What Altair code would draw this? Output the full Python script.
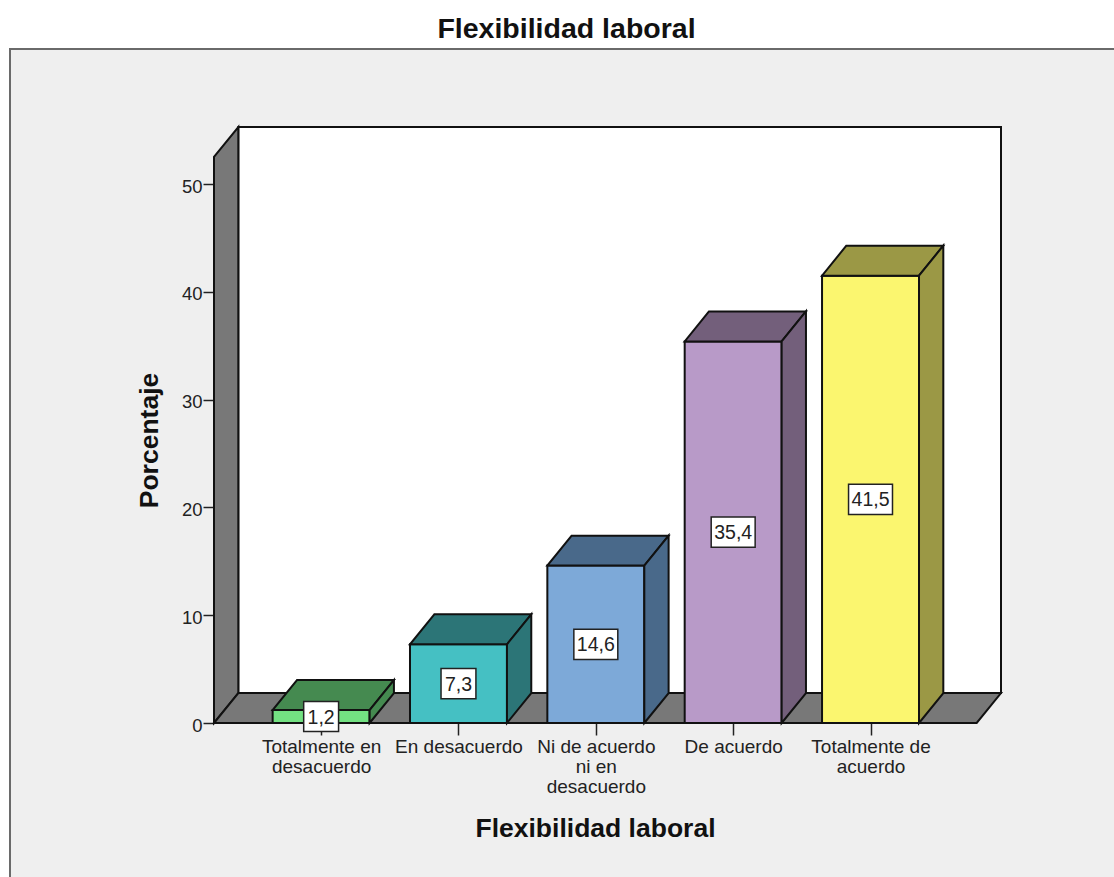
import altair as alt
import pandas as pd

# Survey results
categories = ["Totalmente en|desacuerdo", "En desacuerdo", "Ni de acuerdo|ni en|desacuerdo",
              "De acuerdo", "Totalmente de|acuerdo"]
values = [1.2, 7.3, 14.6, 35.4, 41.5]
front_colors = ["#73E182", "#45C0C3", "#7DA9D8", "#B89AC8", "#FBF66F"]
shade_colors = ["#458A50", "#2C7577", "#49698A", "#735F7B", "#9B9845"]

# Oblique projection, in axis units
HALF = 0.353
DX = 0.177
DY = 2.78
X_MIN, X_MAX = -0.78, 4.95
Y_MAX = 55.29
WALL_TOP = Y_MAX - DY
FLOOR_RIGHT = X_MAX - DX

# Value box half sizes, in axis units
BOX_H = 1.4
BOX_W_SHORT = 0.127
BOX_W_LONG = 0.16

WALL = "#787878"
EDGE = "#111111"
LINE = 2
FONT = "Liberation Sans"

x_scale = alt.Scale(domain=[X_MIN, X_MAX], nice=False, zero=False)
y_scale = alt.Scale(domain=[0, Y_MAX], nice=False, zero=False)

bars = pd.DataFrame({
    "pos": range(len(values)), "value": values, "front": front_colors, "shade": shade_colors,
    "tag": [f"{v:.1f}".replace(".", ",") for v in values],
})
bars["x0"] = bars.pos - HALF
bars["x1"] = bars.pos + HALF
bars["mid"] = bars.value / 2
box_half = [BOX_W_SHORT if len(t) == 3 else BOX_W_LONG for t in bars.tag]
bars["bx0"] = bars.pos - box_half
bars["bx1"] = bars.pos + box_half
bars["by0"] = bars.mid - BOX_H
bars["by1"] = bars.mid + BOX_H

top_rows, side_rows = [], []
for b in bars.itertuples():
    top_rows += [
        dict(pos=b.pos, shade=b.shade, y=b.value, a=b.x0, b=b.x1),
        dict(pos=b.pos, shade=b.shade, y=b.value + DY, a=b.x0 + DX, b=b.x1 + DX),
    ]
    side_rows += [
        dict(pos=b.pos, shade=b.shade, x=b.x1, lo=0, hi=b.value),
        dict(pos=b.pos, shade=b.shade, x=b.x1 + DX, lo=DY, hi=b.value + DY),
    ]
tops = pd.DataFrame(top_rows)
sides = pd.DataFrame(side_rows)

# White page margin above and left of the grey panel, with the panel's border lines
one_row = pd.DataFrame({"k": [0]})
margin_top = alt.Chart(one_row).mark_rect(fill="white", clip=False).encode(
    x=alt.value(-218), x2=alt.value(905), y=alt.value(-131), y2=alt.value(-78))
margin_left = alt.Chart(one_row).mark_rect(fill="white", clip=False).encode(
    x=alt.value(-218), x2=alt.value(-204), y=alt.value(-78), y2=alt.value(755))
border_top = alt.Chart(one_row).mark_rule(color="#6A6A6A", strokeWidth=2, clip=False).encode(
    x=alt.value(-205), x2=alt.value(905), y=alt.value(-78))
border_left = alt.Chart(one_row).mark_rule(color="#6A6A6A", strokeWidth=2, clip=False).encode(
    x=alt.value(-204), y=alt.value(-79), y2=alt.value(755))

# Chart box: back wall, left wall, floor
back_wall = alt.Chart(pd.DataFrame({"a": [X_MIN + DX], "b": [X_MAX], "lo": [DY], "hi": [Y_MAX]})).mark_rect(
    fill="white", stroke=EDGE, strokeWidth=LINE
).encode(x=alt.X("a:Q", scale=x_scale), x2="b:Q", y=alt.Y("lo:Q", scale=y_scale), y2="hi:Q")

left_wall = alt.Chart(pd.DataFrame({"x": [X_MIN, X_MIN + DX], "lo": [0, DY], "hi": [WALL_TOP, Y_MAX]})).mark_area(
    fill=WALL, stroke=EDGE, strokeWidth=LINE, opacity=1
).encode(x=alt.X("x:Q", scale=x_scale), y=alt.Y("lo:Q", scale=y_scale), y2="hi:Q")

floor = alt.Chart(pd.DataFrame({"y": [0, DY], "a": [X_MIN, X_MIN + DX], "b": [FLOOR_RIGHT, X_MAX]})).mark_area(
    fill=WALL, stroke=EDGE, strokeWidth=LINE, orient="horizontal", opacity=1
).encode(y=alt.Y("y:Q", scale=y_scale), x=alt.X("a:Q", scale=x_scale), x2="b:Q")

# Bars: front face, top face, side face
front = alt.Chart(bars).mark_rect(stroke=EDGE, strokeWidth=LINE).encode(
    x=alt.X("x0:Q", scale=x_scale), x2="x1:Q",
    y=alt.Y("value:Q", scale=y_scale), y2=alt.datum(0),
    fill=alt.Fill("front:N", scale=None),
)
top = alt.Chart(tops).mark_area(stroke=EDGE, strokeWidth=LINE, orient="horizontal", opacity=1).encode(
    y=alt.Y("y:Q", scale=y_scale), x=alt.X("a:Q", scale=x_scale), x2="b:Q",
    fill=alt.Fill("shade:N", scale=None), detail="pos:N",
)
side = alt.Chart(sides).mark_area(stroke=EDGE, strokeWidth=LINE, opacity=1).encode(
    x=alt.X("x:Q", scale=x_scale), y=alt.Y("lo:Q", scale=y_scale), y2="hi:Q",
    fill=alt.Fill("shade:N", scale=None), detail="pos:N",
)

# Value labels in white boxes
tag_box = alt.Chart(bars).mark_rect(fill="white", stroke="#222222", strokeWidth=1.5).encode(
    x=alt.X("bx0:Q", scale=x_scale), x2="bx1:Q",
    y=alt.Y("by0:Q", scale=y_scale), y2="by1:Q",
)
tag_text = alt.Chart(bars).mark_text(font=FONT, fontSize=19.5, color="#222222", baseline="middle", dy=1).encode(
    x=alt.X("pos:Q", scale=x_scale), y=alt.Y("mid:Q", scale=y_scale), text="tag:N",
)

# Invisible layer that carries the two axes
label_list = "[" + ",".join(f"'{c}'" for c in categories) + "]"
axes = alt.Chart(bars).mark_point(opacity=0).encode(
    x=alt.X("pos:Q", scale=x_scale, axis=alt.Axis(
        values=list(range(len(values))), title="Flexibilidad laboral", domain=False, grid=False,
        tickSize=12, tickColor="#222222", tickWidth=1.5, labelExpr=f"split({label_list}[datum.value], '|')",
        labelFont=FONT, labelFontSize=19, labelColor="#222222", labelLineHeight=20, labelPadding=2,
        labelOverlap=False, labelFlush=False, labelBound=False, labelBaseline="top",
        titleFont=FONT, titleFontSize=26.5, titleFontWeight="bold", titleColor="#111111",
        titleX=381, titleY=105, titleAnchor="middle", titleAlign="center", titleBaseline="middle",
    )),
    y=alt.Y("value:Q", scale=y_scale, axis=alt.Axis(
        values=[0, 10, 20, 30, 40, 50], title="Porcentaje", domain=False, grid=False,
        tickSize=11, tickColor="#222222", tickWidth=1.5, labelPadding=1, labelOffset=2,
        labelFont=FONT, labelFontSize=18.5, labelColor="#222222",
        titleFont=FONT, titleFontSize=26.5, titleFontWeight="bold", titleColor="#111111",
        titleX=-65, titleY=313, titleAnchor="middle", titleAlign="center", titleBaseline="middle",
    )),
)

chart = alt.layer(
    axes, margin_top, margin_left, border_top, border_left,
    back_wall, left_wall, floor, front, top, side, tag_box, tag_text
).properties(
    width=787,
    height=596,
    background="#EFEFEF",
    padding={"left": 214, "top": 127, "right": 113, "bottom": 154},
    autosize=alt.AutoSizeParams(type="none"),
    title=alt.TitleParams(
        "Flexibilidad laboral", font=FONT, fontSize=28.5, fontWeight="bold", color="#111111",
        anchor="middle", dx=-41, offset=-47,
    ),
).configure_view(stroke=None)

chart.save("out.html", embed_options={"renderer": "svg", "actions": False})
